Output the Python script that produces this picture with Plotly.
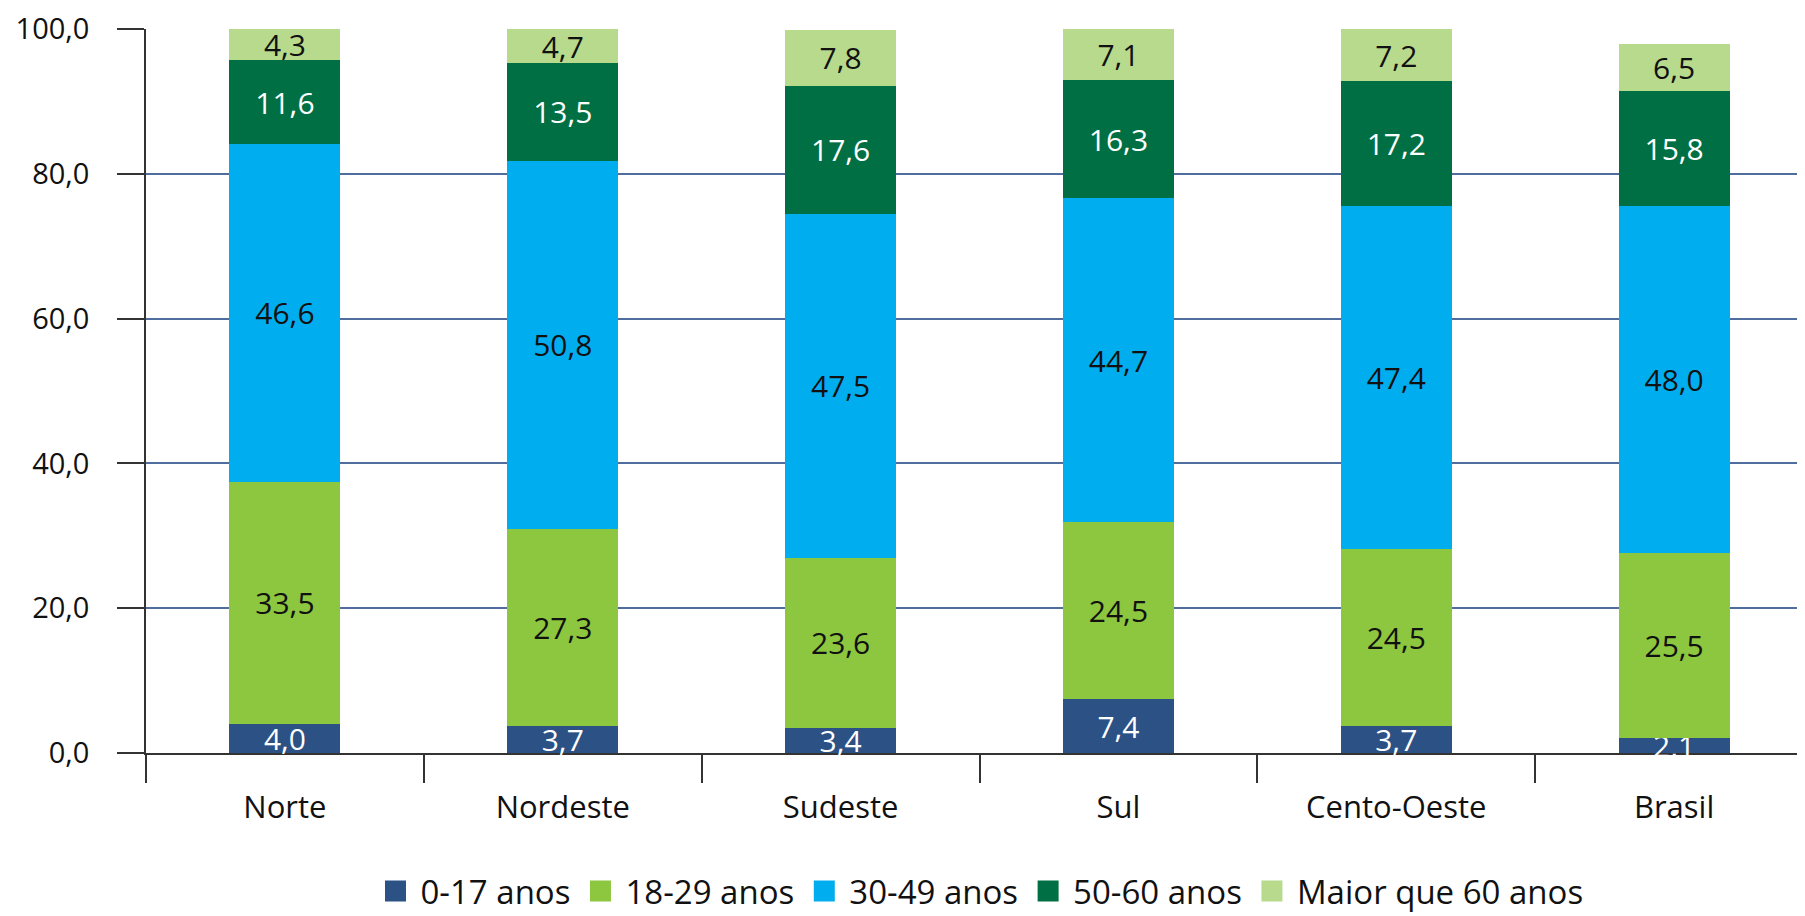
import plotly.graph_objects as go

categories = ["Norte", "Nordeste", "Sudeste", "Sul", "Cento-Oeste", "Brasil"]
series_names = ["0-17 anos", "18-29 anos", "30-49 anos", "50-60 anos", "Maior que 60 anos"]
v_0_17 = [4.0, 3.7, 3.4, 7.4, 3.7, 2.1]
v_18_29 = [33.5, 27.3, 23.6, 24.5, 24.5, 25.5]
v_30_49 = [46.6, 50.8, 47.5, 44.7, 47.4, 48.0]
v_50_60 = [11.6, 13.5, 17.6, 16.3, 17.2, 15.8]
v_60_plus = [4.3, 4.7, 7.8, 7.1, 7.2, 6.5]
y_ticks = [0, 20, 40, 60, 80, 100]

series_values = [v_0_17, v_18_29, v_30_49, v_50_60, v_60_plus]
colors = ["#2B5185", "#8DC63F", "#00AEEF", "#006F44", "#B8DA8C"]
text_colors = ["white", "#111111", "#111111", "white", "#111111"]

FONT = "Open Sans"

fig = go.Figure()
for name, vals, col, tcol in zip(series_names, series_values, colors, text_colors):
    fig.add_trace(go.Bar(
        x=categories, y=vals, name=name,
        marker=dict(color=col, line=dict(width=0)),
        width=0.4,
        text=vals,
        texttemplate="%{y:.1f}",
        textposition="inside",
        insidetextanchor="middle",
        textangle=0,
        textfont=dict(color=tcol, size=30, family=FONT),
        constraintext="none",
        cliponaxis=False,
        hoverinfo="skip",
        showlegend=False,
    ))

# legend entries with larger square swatches
for name, col in zip(series_names, colors):
    fig.add_trace(go.Scatter(
        x=[None], y=[None], name=name, mode="markers",
        marker=dict(symbol="square", size=16, color=col,
                    line=dict(color=col, width=5)),
        hoverinfo="skip",
        showlegend=True,
    ))

fig.update_layout(
    width=1805, height=916,
    barmode="stack",
    separators=",.",
    paper_bgcolor="white",
    plot_bgcolor="white",
    font=dict(family=FONT, size=30, color="#111111"),
    margin=dict(l=138, r=0, t=10, b=171),
    uniformtext=dict(minsize=30, mode="show"),
    showlegend=True,
    legend=dict(
        orientation="h",
        x=0.5, xanchor="center",
        yref="container",
        y=0.036, yanchor="middle",
        traceorder="normal",
        font=dict(size=33, family=FONT, color="#111111"),
        itemwidth=40,
        itemsizing="trace",
        tracegroupgap=0,
    ),
)

fig.update_yaxes(
    range=[0, 100],
    tickvals=y_ticks,
    tickformat=".1f",
    showgrid=True,
    gridcolor="#4F6E9E",
    gridwidth=1.5,
    zeroline=False,
    showline=True,
    linecolor="#333333",
    linewidth=1.5,
    ticks="outside",
    ticklen=27,
    tickwidth=1.5,
    tickcolor="#333333",
    ticklabelstandoff=22,
    ticklabeloverflow="allow",
    tickfont=dict(size=29, family=FONT, color="#111111"),
    fixedrange=True,
)
fig.update_xaxes(
    showline=True,
    linecolor="#333333",
    linewidth=2,
    layer="below traces",
    ticks="outside",
    tickson="boundaries",
    ticklen=28,
    tickwidth=1.5,
    tickcolor="#333333",
    ticklabelstandoff=26,
    tickfont=dict(size=31, family=FONT, color="#111111"),
    showgrid=False,
    fixedrange=True,
)

fig.write_html("out.html")
